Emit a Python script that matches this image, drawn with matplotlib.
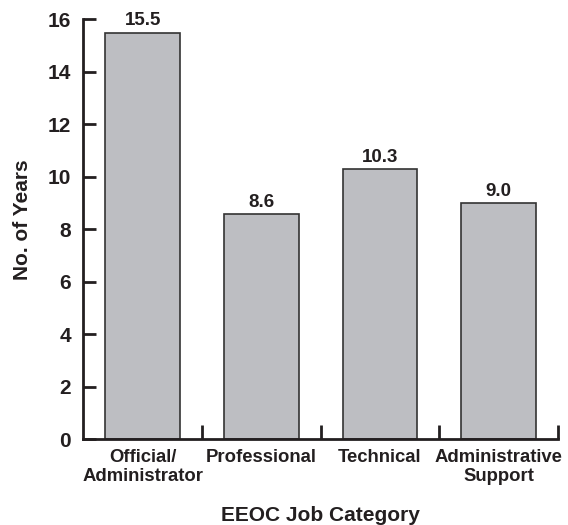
import numpy as np
import matplotlib.pyplot as plt

plt.rcParams['font.family'] = ['Liberation Sans', 'DejaVu Sans']
plt.rcParams['font.weight'] = 'bold'

categories = ['Official/\nAdministrator', 'Professional', 'Technical', 'Administrative\nSupport']
years = [15.5, 8.6, 10.3, 9.0]
yticks = [0, 2, 4, 6, 8, 10, 12, 14, 16]

ink = '#231f20'

fig = plt.figure(figsize=(5.68, 5.25), dpi=100)
ax = fig.add_axes([0.1467, 0.163, 0.8357, 0.8])

x = np.arange(len(categories))
ax.bar(x, years, width=0.63, color='#bdbec2', edgecolor='#333333', linewidth=1.2, zorder=2)

for xi, v in zip(x, years):
    ax.text(xi, v + 0.12, f'{v:.1f}', ha='center', va='bottom', fontsize=13.5, fontweight='bold', color=ink)

ax.set_xlim(-0.5, len(categories) - 0.5)
ax.set_ylim(0, 16)

for s in ['top', 'right']:
    ax.spines[s].set_visible(False)
for s in ['left', 'bottom']:
    ax.spines[s].set_linewidth(2)
    ax.spines[s].set_color(ink)

ax.set_yticks(yticks)
ax.tick_params(axis='y', direction='in', length=9, width=2, labelsize=15, pad=9, colors=ink)

# boundary ticks between categories, labels sit on minor ticks
ax.set_xticks(np.arange(0.5, len(categories), 1.0))
ax.set_xticklabels([])
ax.tick_params(axis='x', which='major', direction='in', length=10, width=2, colors=ink)
ax.set_xticks(x, minor=True)
ax.set_xticklabels(categories, minor=True, fontsize=13.3, fontweight='bold', color=ink,
                   linespacing=1.15)
ax.tick_params(axis='x', which='minor', length=0, pad=7)

ax.set_ylabel('No. of Years', fontsize=15, fontweight='bold', color=ink)
ax.yaxis.set_label_coords(-0.109, 0.523)
ax.set_xlabel('EEOC Job Category', fontsize=15, fontweight='bold', color=ink)
ax.xaxis.set_label_coords(0.5, -0.158)

fig.savefig('out.png', dpi=100)
